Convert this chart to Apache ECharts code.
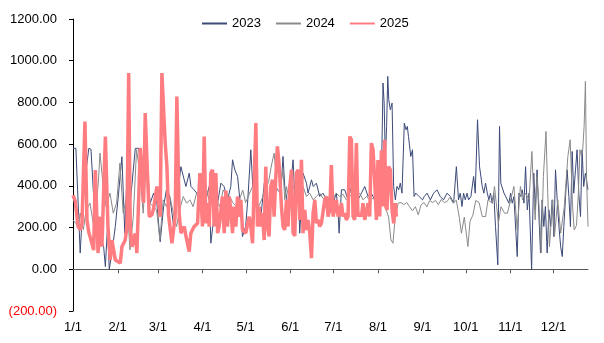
<!DOCTYPE html>
<html>
<head>
<meta charset="utf-8">
<style>
  html, body { margin: 0; padding: 0; background: #fff; }
  #chart { width: 604px; height: 343px; }
</style>
<script src="https://cdn.jsdelivr.net/npm/echarts@6/dist/echarts.min.js"></script>
</head>
<body>
<div id="chart"></div>
<script>
// Day-of-year positions (0 = Jan 1) of the month ticks and their labels
const monthStarts = [0, 31, 59, 90, 120, 151, 181, 212, 243, 273, 304, 334];
const monthLabels = ['1/1', '2/1', '3/1', '4/1', '5/1', '6/1', '7/1', '8/1', '9/1', '10/1', '11/1', '12/1'];
const lastDay = 358;

const seriesNames = ['2023', '2024', '2025'];

// [day of year, value]
const s2023 = [
  [0,580],[2,580],[5,78],[7,333],[9,470],[11,580],[12.5,575],[14.5,333],[16.7,252],[19,157],
  [21.3,108],[22.5,13],[24,205],[25.2,0],[27,78],[29.4,205],[31.7,365],[34,540],[36,172],[37.5,445],
  [40,333],[43.3,580],[45.6,580],[48,477],[50,525],[53.7,317],[56,365],[58.3,317],[60.6,132],[63,301],
  [65.3,397],[67.6,333],[70,205],[72.2,333],[75,492],[77.3,429],[78.5,397],[80.8,461],[82,397],[84.2,381],
  [86,365],[88.2,365],[90,461],[92.4,333],[94.7,397],[95.8,125],[98,253],[100.5,317],[102.8,413],[105,397],
  [107.4,333],[109.7,397],[110.9,525],[112.5,477],[114.4,445],[116.7,285],[117.8,157],[120,205],[121.5,333],[123.6,573],
  [125,397],[126,541],[128,301],[130.6,253],[133,413],[135.2,285],[137.5,349],[139.8,429],[142,381],[144.4,365],
  [146,541],[147.2,397],[149.5,301],[151.9,445],[153,525],[154.2,333],[156.5,413],[157.6,173],[159.9,461],[162.3,413],
  [163.4,365],[165.8,429],[167,397],[169.2,413],[171.5,349],[173.8,365],[176.2,333],[178.5,333],[180.8,317],[183.1,365],
  [184.3,269],[185,173],[186.6,381],[188.9,381],[191.2,333],[193.5,397],[195.8,365],[198.1,333],[200.5,365],[202.8,397],
  [205.1,349],[207.4,365],[209.7,333],[212,365],[213.2,333],[214.4,429],[215.5,893],[216.3,797],[217.1,525],[218,685],
  [218.8,925],[219.5,813],[220.6,765],[221.8,797],[222.9,397],[224.1,333],[225.2,397],[226.4,381],[227.5,413],[228.7,365],
  [230.3,701],[231.5,669],[232.4,685],[233.2,637],[234.8,541],[236,573],[237.1,349],[238.3,365],[240.6,349],[243,333],
  [244.2,349],[246.1,365],[248.4,333],[250.7,365],[253,381],[255.3,349],[257.6,333],[260,365],[262.3,349],[264.6,317],
  [266.5,492],[268,333],[269.2,365],[270.4,301],[271.5,365],[272.7,333],[273.9,365],[275,333],[276.6,349],[278.5,445],
  [279.6,365],[281.2,717],[282.6,492],[284.5,397],[285.6,365],[286.8,413],[288,365],[289.1,333],[290.2,365],[291.4,317],
  [292.5,365],[293.7,205],[295.3,21],[296.5,685],[297.4,413],[298.3,413],[299.6,365],[300.8,349],[302,349],[303,317],
  [304.2,365],[305.3,317],[306.5,349],[308.8,61],[310,365],[311.2,349],[312.3,381],[313.5,317],[314.6,492],[315.8,285],
  [317,365],[318.8,0],[320.3,461],[321.4,285],[322.6,477],[323.8,269],[325,78],[326.1,333],[327.3,205],[328.4,301],
  [329.6,78],[330.8,285],[332,205],[333.1,333],[334.3,157],[335.4,477],[336.6,333],[337.8,205],[339,108],[340.1,61],
  [341.2,205],[342.4,349],[343.5,477],[344.7,349],[345.8,205],[347,565],[348.1,365],[349.3,477],[350.4,573],[351.6,365],
  [352.8,253],[353.9,573],[355,397],[356.2,461],[358,381]
];

const s2024 = [
  [0,237],[3.7,205],[5,270],[7.2,190],[9,280],[11.8,317],[14.1,221],[16,300],[17.6,413],[18.75,557],
  [21,397],[23,300],[25.7,365],[28,269],[30.3,317],[32.6,509],[34.9,269],[37.3,349],[39.6,93],[41.9,253],
  [44.2,573],[46.5,461],[48.8,269],[51.2,557],[53.5,317],[56,300],[58.1,285],[60.4,141],[62.7,333],[65,300],
  [67.4,349],[70,260],[72,205],[74,280],[76.6,349],[79,317],[81.25,333],[83.5,300],[85.9,365],[88,330],
  [90.5,301],[93,380],[95.1,317],[97.5,340],[99.8,333],[102,300],[104.4,381],[107,349],[109,349],[111,320],
  [113.7,301],[116,340],[118,380],[120,320],[122.5,360],[125,400],[127,330],[129,300],[131.5,340],[134,390],
  [136,420],[138,500],[139.8,557],[141,470],[142.5,541],[144.4,400],[146,480],[147.2,333],[148.4,397],[150.7,317],
  [153,397],[155.3,365],[157.6,285],[159.9,397],[162.3,349],[164.6,365],[166.9,333],[169.2,349],[171.5,365],[173.8,340],
  [176.2,333],[178.5,349],[180.8,340],[183,365],[185.4,349],[187.7,360],[190,333],[192.4,349],[194.7,365],[197,349],
  [199.3,365],[201.6,333],[203.9,349],[206.25,333],[208.6,340],[210.9,325],[213.2,317],[215.5,333],[217,301],[219.4,250],
  [221,141],[222.4,125],[224,250],[226,317],[228,320],[230,310],[232,320],[234,300],[236,280],[238,300],
  [240,261],[242,310],[244,320],[246,300],[248,330],[250,320],[252,330],[254,310],[256,335],[258,320],
  [260,325],[262,345],[264,320],[266.5,330],[268.5,250],[270,173],[272,250],[274.5,109],[276,230],[278,260],
  [280,330],[282.3,320],[284.5,253],[286.8,253],[288.5,333],[291.5,317],[293,397],[295.7,221],[297.5,300],[300,269],
  [302,269],[306.5,397],[308.8,189],[311,397],[312.5,333],[314.5,365],[317,333],[319,565],[320,400],[321.3,237],
  [322.5,445],[324,300],[325.5,78],[327,445],[328.8,661],[330,365],[331.2,108],[333.5,333],[334.7,157],[337,333],
  [339,173],[341.5,300],[344,541],[345.6,621],[347.3,300],[348.4,189],[350,210],[351.3,365],[352.4,573],[353.5,541],
  [354.3,573],[355.3,685],[356.2,901],[357,440],[358,205]
];

const s2025 = [
  [0,355],[1.6,327],[3.5,205],[5.1,189],[6.25,220],[8.3,708],[9.7,237],[10.9,180],[12.5,140],[14.4,92],
  [15.5,476],[17.4,78],[19,252],[20.1,108],[22.5,636],[24.3,205],[25.9,45],[27.1,140],[29.4,45],[32.9,30],
  [34,108],[36.3,140],[37.5,205],[38.7,941],[39.8,205],[41,108],[43.3,172],[44.4,78],[46.8,582],[47.9,590],
  [49.1,318],[50.2,749],[51.4,524],[53,252],[54.9,262],[56,290],[58.3,397],[60.6,252],[61.8,941],[64.1,605],
  [65.3,492],[66.4,262],[68.75,125],[71,252],[72.2,828],[73.8,269],[75,173],[77.3,205],[78.5,160],[80.8,85],
  [81.9,173],[84.2,205],[86.6,220],[88.2,461],[90,205],[91.2,637],[92.4,220],[93.5,317],[94.7,205],[95.8,461],
  [97,477],[98.1,205],[99.3,461],[100.5,173],[101.6,205],[103.9,349],[105.1,173],[106.3,377],[107.4,205],[108.6,349],
  [109.7,285],[110.9,173],[112,300],[113.2,205],[114.4,349],[115.5,252],[116.7,333],[117.8,189],[120.1,173],[122.5,252],
  [123.6,205],[124.8,125],[127.1,701],[128.2,205],[129.4,300],[130.6,205],[131.7,269],[132.9,140],[134,492],[135.2,205],
  [136.3,157],[137.5,397],[138.7,429],[139.8,252],[141,445],[142.1,589],[143.3,500],[144.9,301],[146,205],[147.2,189],
  [148.4,333],[149.5,205],[150.7,397],[151.9,477],[153,174],[154.2,160],[155.3,461],[156.5,477],[157.6,237],[158.8,525],
  [159.9,173],[161.1,285],[162.3,189],[163.4,237],[164.6,173],[165.8,53],[166.9,269],[168.1,333],[169.2,221],[170.4,237],
  [171.5,205],[172.7,221],[173.8,213],[175,333],[176.2,349],[177.3,253],[178.5,285],[179.6,500],[180.8,253],[181.9,285],
  [183.1,333],[184.3,253],[185.4,269],[186.6,317],[187.7,253],[188.9,269],[190,237],[191.2,253],[192.4,636],[193.5,621],
  [194.7,253],[195.8,237],[197,605],[198.1,253],[199.3,269],[200.5,253],[201.6,317],[202.8,237],[203.9,269],[205.1,317],
  [206.25,253],[207.4,605],[208.6,573],[209.7,429],[210.9,237],[212,524],[213.2,253],[214.4,571],[215.5,301],[216.7,621],
  [217.5,300],[218.3,285],[219.4,492],[220.6,477],[221.8,285],[222.9,220],[224.1,317],[224.8,253]
];

const lineColors = ['#3c4a78', '#8a8a8a', '#ff7c80'];
const lineWidths = [1, 1, 3.5];
const seriesData = [s2023, s2024, s2025];

const font = '"Liberation Sans", Arial, sans-serif';

const yMin = -200, yMax = 1200, yStep = 200;
const axisGrey = '#595959';

// horizontal rule colours per y tick: only the zero level is drawn
const yRuleColors = [];
for (let v = yMin; v <= yMax; v += yStep) yRuleColors.push(v === 0 ? axisGrey : 'rgba(0,0,0,0)');

// one category per day; carries the month ticks and labels
const dayCategories = [];
for (let d = 0; d <= lastDay; d++) dayCategories.push(String(d));

// month ticks hang below the zero level
const tickPoints = monthStarts.slice(1).map((m) => [m, 0]);

const chart = echarts.init(document.getElementById('chart'), null, { renderer: 'canvas' });

const yearSeries = seriesNames.map((name, i) => ({
  name: name,
  type: 'line',
  xAxisIndex: 0,
  data: seriesData[i],
  symbol: 'none',
  showSymbol: false,
  lineStyle: { color: lineColors[i], width: lineWidths[i] },
  itemStyle: { color: lineColors[i] },
  z: 3 + i
}));

chart.setOption({
  animation: false,
  backgroundColor: '#ffffff',
  grid: {
    left: 73, right: 16, top: 19, bottom: 32,
    containLabel: false,
    outerBoundsMode: 'none'
  },
  legend: {
    top: 12,
    left: 196,
    itemWidth: 25,
    itemHeight: 14,
    itemGap: 14,
    // line-only legend keys, no marker dot
    itemStyle: { opacity: 0 },
    textStyle: { fontFamily: font, fontSize: 13, color: '#000' },
    data: seriesNames
  },
  xAxis: [
    // value axis carrying the data; its line sits on y = 0
    {
      type: 'value', min: 0, max: lastDay, position: 'bottom',
      splitLine: { show: false },
      axisLine: { show: true, onZero: true, lineStyle: { color: axisGrey, width: 1 } },
      axisTick: { show: false },
      axisLabel: { show: false }
    },
    // month labels along the bottom edge
    {
      type: 'category', data: dayCategories, boundaryGap: false, position: 'bottom',
      splitLine: { show: false },
      axisLine: { show: false, onZero: false },
      axisTick: { show: false },
      axisLabel: {
        interval: (idx) => monthStarts.indexOf(idx) >= 0,
        margin: 10,
        fontFamily: font,
        fontSize: 13,
        color: '#000',
        formatter: (val) => monthLabels[monthStarts.indexOf(Number(val))] || ''
      }
    }
  ],
  yAxis: {
    type: 'value',
    min: yMin,
    max: yMax,
    interval: yStep,
    splitLine: {
      show: true,
      showMinLine: true,
      showMaxLine: true,
      lineStyle: { color: yRuleColors, width: 1, type: 'solid' }
    },
    axisLine: { show: true, onZero: false, lineStyle: { color: '#000', width: 1 } },
    axisTick: { show: true, length: 4, lineStyle: { color: '#000' } },
    axisLabel: {
      margin: 16,
      fontFamily: font,
      fontSize: 13,
      color: '#000',
      formatter: (v) => v < 0 ? '{neg|(' + Math.abs(v).toFixed(2) + ')}' : v.toFixed(2),
      rich: { neg: { color: '#ff0000', fontFamily: font, fontSize: 13 } }
    }
  },
  series: [
    {
      name: 'monthTicks',
      type: 'custom',
      xAxisIndex: 0,
      data: tickPoints,
      silent: true,
      clip: false,
      z: 1,
      renderItem: (params, api) => {
        const p = api.coord([api.value(0), api.value(1)]);
        const x = Math.round(p[0]) + 0.5;
        return {
          type: 'line',
          shape: { x1: x, y1: p[1], x2: x, y2: p[1] + 4 },
          style: { stroke: axisGrey, lineWidth: 1 }
        };
      }
    }
  ].concat(yearSeries)
});
</script>
</body>
</html>
